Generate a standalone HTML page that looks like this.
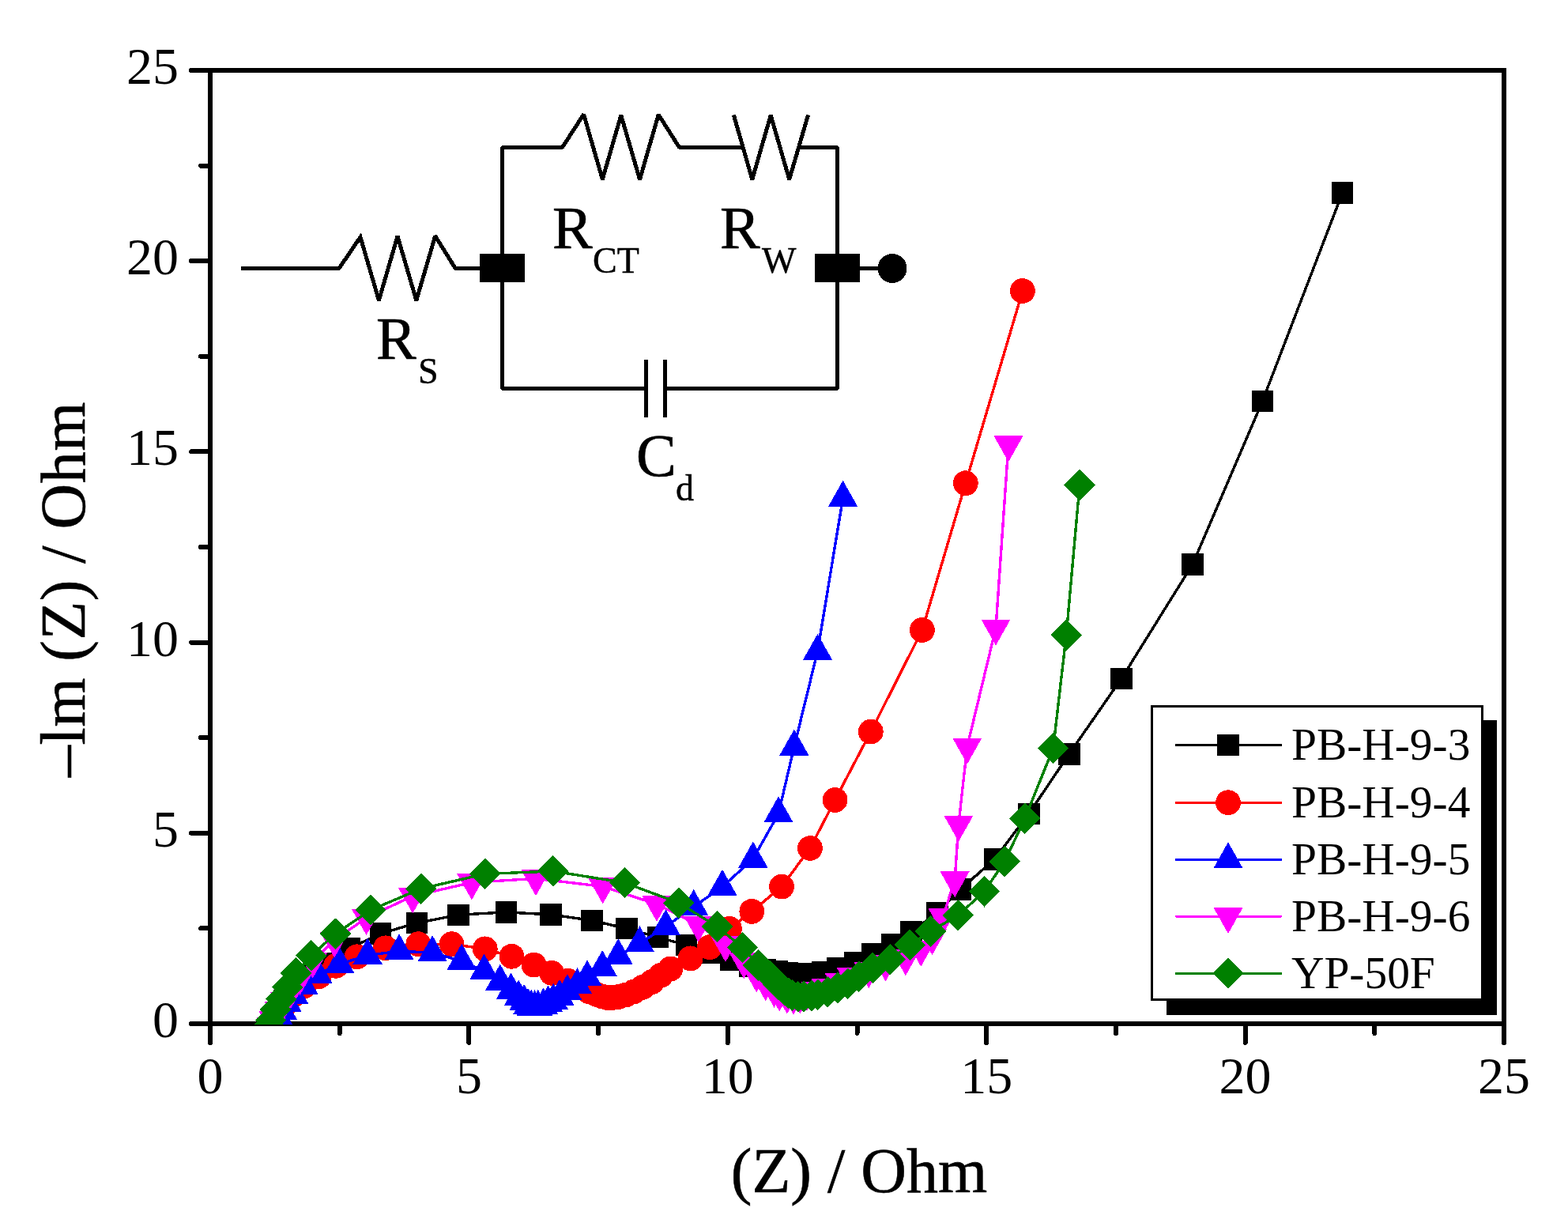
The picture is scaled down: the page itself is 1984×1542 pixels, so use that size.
<!DOCTYPE html>
<html lang="en">
<head>
<meta charset="utf-8">
<title>Nyquist plot</title>
<style>
html,body{margin:0;padding:0;background:#fff;}
body{width:1984px;height:1542px;overflow:hidden;}
svg{display:block;}
text{font-family:"Liberation Serif","Times New Roman",serif;fill:#000;}
.tk{font-size:66px;}
.ttl{font-size:80px;stroke:#000;stroke-width:0.6px;}
.lg{font-size:57.4px;}
.cl{font-size:76px;stroke:#000;stroke-width:0.7px;}
.sub{font-size:46px;stroke:#000;stroke-width:0.5px;}
</style>
</head>
<body>
<svg width="1984" height="1542" viewBox="0 0 1984 1542" shape-rendering="crispEdges">
<rect width="1984" height="1542" fill="#fff"/>
<g stroke="#000" stroke-width="6" fill="none" stroke-linecap="butt">
<path d="M266 86V1298M1903 86V1298M263 89H1906M263 1295H1906"/>
</g>
<path d="M266 1295V1319M266 1295H242M593.4 1295V1319M266 1053.8H242M920.8 1295V1319M266 812.6H242M1248.2 1295V1319M266 571.4H242M1575.6 1295V1319M266 330.2H242M1903 1295V1319M266 89H242M429.7 1295V1307M266 1174.4H254M757.1 1295V1307M266 933.2H254M1084.5 1295V1307M266 692H254M1411.9 1295V1307M266 450.8H254M1739.3 1295V1307M266 209.6H254" stroke="#000" stroke-width="6" stroke-linecap="round" fill="none"/>
<text class="tk" x="266" y="1383" text-anchor="middle">0</text>
<text class="tk" x="226" y="1312" text-anchor="end">0</text>
<text class="tk" x="593.4" y="1383" text-anchor="middle">5</text>
<text class="tk" x="226" y="1070.8" text-anchor="end">5</text>
<text class="tk" x="920.8" y="1383" text-anchor="middle">10</text>
<text class="tk" x="226" y="829.6" text-anchor="end">10</text>
<text class="tk" x="1248.2" y="1383" text-anchor="middle">15</text>
<text class="tk" x="226" y="588.4" text-anchor="end">15</text>
<text class="tk" x="1575.6" y="1383" text-anchor="middle">20</text>
<text class="tk" x="226" y="347.2" text-anchor="end">20</text>
<text class="tk" x="1903" y="1383" text-anchor="middle">25</text>
<text class="tk" x="226" y="106" text-anchor="end">25</text>
<text class="ttl" x="1087" y="1508" text-anchor="middle">(Z) / Ohm</text>
<text class="ttl" transform="translate(107 983) rotate(-90)" letter-spacing="0.47">–lm (Z) / Ohm</text>
<clipPath id="pc"><rect x="266" y="89" width="1637" height="1207"/></clipPath>
<g clip-path="url(#pc)">
<path d="M344 1297L348 1287L353 1277L360 1266L369 1254L381 1240L397 1225L422 1218.2L442.5 1199.5L481.3 1181.1L527.2 1167.6L580 1157.3L640.2 1153.9L696.7 1156.9L749 1164.4L793 1174.6L832.3 1185.5L868.6 1195.6L897 1205.5L925 1214.4L949 1222.2L968 1226.5L983 1229L996.3 1230.8L1015.6 1231.7L1040.8 1229.8L1059.8 1224.8L1081.8 1217.7L1103.9 1206.6L1128.7 1194.9L1152.9 1178.8L1185.7 1154.9L1215.3 1125L1258.5 1086.8L1301.8 1029.3L1352.8 953.8L1419 858.4L1509.1 713.7L1597.3 507.7L1698.5 244.2" fill="none" stroke="#000000" stroke-width="3.4" stroke-linejoin="round"/>
<path d="M330.2 1283.2h27.5v27.5h-27.5zM334.2 1273.2h27.5v27.5h-27.5zM339.2 1263.2h27.5v27.5h-27.5zM346.2 1252.2h27.5v27.5h-27.5zM355.2 1240.2h27.5v27.5h-27.5zM367.2 1226.2h27.5v27.5h-27.5zM383.2 1211.2h27.5v27.5h-27.5zM408.2 1204.5h27.5v27.5h-27.5zM428.8 1185.8h27.5v27.5h-27.5zM467.6 1167.3h27.5v27.5h-27.5zM513.5 1153.8h27.5v27.5h-27.5zM566.2 1143.5h27.5v27.5h-27.5zM626.5 1140.2h27.5v27.5h-27.5zM683 1143.2h27.5v27.5h-27.5zM735.2 1150.7h27.5v27.5h-27.5zM779.2 1160.8h27.5v27.5h-27.5zM818.5 1171.8h27.5v27.5h-27.5zM854.9 1181.8h27.5v27.5h-27.5zM883.2 1191.8h27.5v27.5h-27.5zM911.2 1200.7h27.5v27.5h-27.5zM935.2 1208.5h27.5v27.5h-27.5zM954.2 1212.8h27.5v27.5h-27.5zM969.2 1215.2h27.5v27.5h-27.5zM982.5 1217h27.5v27.5h-27.5zM1001.9 1218h27.5v27.5h-27.5zM1027 1216h27.5v27.5h-27.5zM1046 1211h27.5v27.5h-27.5zM1068 1204h27.5v27.5h-27.5zM1090.2 1192.8h27.5v27.5h-27.5zM1115 1181.2h27.5v27.5h-27.5zM1139.2 1165h27.5v27.5h-27.5zM1172 1141.2h27.5v27.5h-27.5zM1201.5 1111.2h27.5v27.5h-27.5zM1244.8 1073h27.5v27.5h-27.5zM1288 1015.5h27.5v27.5h-27.5zM1339 940h27.5v27.5h-27.5zM1405.2 844.6h27.5v27.5h-27.5zM1495.3 700h27.5v27.5h-27.5zM1583.5 493.9h27.5v27.5h-27.5zM1684.8 230.4h27.5v27.5h-27.5z" fill="#000000"/>
<path d="M345 1299L348 1291L353 1281L361 1270L372 1258.5L385 1247.5L403.5 1235.2L425 1221.8L451.6 1210.3L487.9 1199.3L529.3 1194.2L571.6 1194.2L613.8 1200.4L647.5 1209.8L675.5 1220.6L698.1 1230.8L718.5 1240.7L733 1248L745 1254L755 1258L762 1260.5L768 1262L775 1262L783 1261L792 1258.5L802 1254.5L813 1249L825 1242L836 1234L848.4 1225.5L873.6 1212.4L897.8 1198.2L923 1175L951.3 1152.9L989.1 1121.6L1025 1073L1056.6 1011.9L1101.8 925.6L1166.9 797L1221.8 611.2L1293.9 368" fill="none" stroke="#ff0000" stroke-width="3.4" stroke-linejoin="round"/>
<path d="M329.1 1299a15.9 15.9 0 1 0 31.8 0a15.9 15.9 0 1 0 -31.8 0zM332.1 1291a15.9 15.9 0 1 0 31.8 0a15.9 15.9 0 1 0 -31.8 0zM337.1 1281a15.9 15.9 0 1 0 31.8 0a15.9 15.9 0 1 0 -31.8 0zM345.1 1270a15.9 15.9 0 1 0 31.8 0a15.9 15.9 0 1 0 -31.8 0zM356.1 1258.5a15.9 15.9 0 1 0 31.8 0a15.9 15.9 0 1 0 -31.8 0zM369.1 1247.5a15.9 15.9 0 1 0 31.8 0a15.9 15.9 0 1 0 -31.8 0zM387.6 1235.2a15.9 15.9 0 1 0 31.8 0a15.9 15.9 0 1 0 -31.8 0zM409.1 1221.8a15.9 15.9 0 1 0 31.8 0a15.9 15.9 0 1 0 -31.8 0zM435.7 1210.3a15.9 15.9 0 1 0 31.8 0a15.9 15.9 0 1 0 -31.8 0zM472 1199.3a15.9 15.9 0 1 0 31.8 0a15.9 15.9 0 1 0 -31.8 0zM513.4 1194.2a15.9 15.9 0 1 0 31.8 0a15.9 15.9 0 1 0 -31.8 0zM555.7 1194.2a15.9 15.9 0 1 0 31.8 0a15.9 15.9 0 1 0 -31.8 0zM597.9 1200.4a15.9 15.9 0 1 0 31.8 0a15.9 15.9 0 1 0 -31.8 0zM631.6 1209.8a15.9 15.9 0 1 0 31.8 0a15.9 15.9 0 1 0 -31.8 0zM659.6 1220.6a15.9 15.9 0 1 0 31.8 0a15.9 15.9 0 1 0 -31.8 0zM682.2 1230.8a15.9 15.9 0 1 0 31.8 0a15.9 15.9 0 1 0 -31.8 0zM702.6 1240.7a15.9 15.9 0 1 0 31.8 0a15.9 15.9 0 1 0 -31.8 0zM717.1 1248a15.9 15.9 0 1 0 31.8 0a15.9 15.9 0 1 0 -31.8 0zM729.1 1254a15.9 15.9 0 1 0 31.8 0a15.9 15.9 0 1 0 -31.8 0zM739.1 1258a15.9 15.9 0 1 0 31.8 0a15.9 15.9 0 1 0 -31.8 0zM746.1 1260.5a15.9 15.9 0 1 0 31.8 0a15.9 15.9 0 1 0 -31.8 0zM752.1 1262a15.9 15.9 0 1 0 31.8 0a15.9 15.9 0 1 0 -31.8 0zM759.1 1262a15.9 15.9 0 1 0 31.8 0a15.9 15.9 0 1 0 -31.8 0zM767.1 1261a15.9 15.9 0 1 0 31.8 0a15.9 15.9 0 1 0 -31.8 0zM776.1 1258.5a15.9 15.9 0 1 0 31.8 0a15.9 15.9 0 1 0 -31.8 0zM786.1 1254.5a15.9 15.9 0 1 0 31.8 0a15.9 15.9 0 1 0 -31.8 0zM797.1 1249a15.9 15.9 0 1 0 31.8 0a15.9 15.9 0 1 0 -31.8 0zM809.1 1242a15.9 15.9 0 1 0 31.8 0a15.9 15.9 0 1 0 -31.8 0zM820.1 1234a15.9 15.9 0 1 0 31.8 0a15.9 15.9 0 1 0 -31.8 0zM832.5 1225.5a15.9 15.9 0 1 0 31.8 0a15.9 15.9 0 1 0 -31.8 0zM857.7 1212.4a15.9 15.9 0 1 0 31.8 0a15.9 15.9 0 1 0 -31.8 0zM881.9 1198.2a15.9 15.9 0 1 0 31.8 0a15.9 15.9 0 1 0 -31.8 0zM907.1 1175a15.9 15.9 0 1 0 31.8 0a15.9 15.9 0 1 0 -31.8 0zM935.4 1152.9a15.9 15.9 0 1 0 31.8 0a15.9 15.9 0 1 0 -31.8 0zM973.2 1121.6a15.9 15.9 0 1 0 31.8 0a15.9 15.9 0 1 0 -31.8 0zM1009.1 1073a15.9 15.9 0 1 0 31.8 0a15.9 15.9 0 1 0 -31.8 0zM1040.7 1011.9a15.9 15.9 0 1 0 31.8 0a15.9 15.9 0 1 0 -31.8 0zM1085.9 925.6a15.9 15.9 0 1 0 31.8 0a15.9 15.9 0 1 0 -31.8 0zM1151 797a15.9 15.9 0 1 0 31.8 0a15.9 15.9 0 1 0 -31.8 0zM1205.9 611.2a15.9 15.9 0 1 0 31.8 0a15.9 15.9 0 1 0 -31.8 0zM1278 368a15.9 15.9 0 1 0 31.8 0a15.9 15.9 0 1 0 -31.8 0z" fill="#ff0000"/>
<path d="M351 1298.5L353.5 1288.5L357.3 1278.7L363 1268.7L371.6 1258.6L383.9 1246.7L402 1233L429.5 1219.5L465.1 1208.5L505.1 1203.2L547.1 1205.2L584.2 1215.6L612.6 1228.4L632.8 1241.6L646.6 1252.5L656.2 1261.4L663.1 1266.8L668 1271.7L672.2 1273.9L676.5 1274.2L680.8 1273.9L687.5 1271.7L693.5 1268.7L700.2 1265.6L708 1260.8L717.9 1254.2L730.5 1246.3L743 1236.4L762.2 1224L782.3 1209.2L809.4 1193.3L842.4 1172.2L877.7 1147L914 1121.8L952.9 1086.5L985 1029.3L1004.9 944.6L1034.5 823.8L1066.6 629.8" fill="none" stroke="#0000ff" stroke-width="3.4" stroke-linejoin="round"/>
<path d="M351 1276.5L369.6 1309.5H332.4zM353.5 1266.5L372.1 1299.5H334.9zM357.3 1256.7L375.9 1289.7H338.7zM363 1246.7L381.6 1279.7H344.4zM371.6 1236.6L390.2 1269.6H353zM383.9 1224.7L402.5 1257.7H365.3zM402 1211L420.6 1244H383.4zM429.5 1197.5L448.1 1230.5H410.9zM465.1 1186.5L483.7 1219.5H446.5zM505.1 1181.2L523.7 1214.2H486.5zM547.1 1183.2L565.7 1216.2H528.5zM584.2 1193.6L602.8 1226.6H565.6zM612.6 1206.4L631.2 1239.4H594zM632.8 1219.6L651.4 1252.6H614.2zM646.6 1230.5L665.2 1263.5H628zM656.2 1239.4L674.8 1272.4H637.6zM663.1 1244.8L681.7 1277.8H644.5zM668 1249.7L686.6 1282.7H649.4zM672.2 1251.9L690.8 1284.9H653.6zM676.5 1252.2L695.1 1285.2H657.9zM680.8 1251.9L699.4 1284.9H662.2zM687.5 1249.7L706.1 1282.7H668.9zM693.5 1246.7L712.1 1279.7H674.9zM700.2 1243.6L718.8 1276.6H681.6zM708 1238.8L726.6 1271.8H689.4zM717.9 1232.2L736.5 1265.2H699.3zM730.5 1224.3L749.1 1257.3H711.9zM743 1214.4L761.6 1247.4H724.4zM762.2 1202L780.8 1235H743.6zM782.3 1187.2L800.9 1220.2H763.7zM809.4 1171.3L828 1204.3H790.8zM842.4 1150.2L861 1183.2H823.8zM877.7 1125L896.3 1158H859.1zM914 1099.8L932.6 1132.8H895.4zM952.9 1064.5L971.5 1097.5H934.3zM985 1007.3L1003.6 1040.3H966.4zM1004.9 922.6L1023.5 955.6H986.3zM1034.5 801.8L1053.1 834.8H1015.9zM1066.6 607.8L1085.2 640.8H1048z" fill="#0000ff"/>
<path d="M343 1298L346.2 1290.4L353.2 1277.9L360.2 1265.7L368.4 1253.1L379.5 1237L395.7 1215.7L423.2 1189.5L463.5 1161L522.2 1133.5L596.9 1116.4L678 1111.3L762.7 1121.4L831 1143.8L883.7 1169.6L918 1195L941.2 1216.2L957.2 1233.3L968.7 1244.2L979.6 1252.7L986.2 1257.5L995.9 1260.6L1004 1261.5L1012.3 1260.5L1021 1257L1032.5 1252.6L1045.2 1249L1062.1 1241.9L1077.2 1235L1099.3 1228.2L1120.5 1219.4L1145.9 1212.2L1165.3 1200.7L1179.5 1186.1L1193.1 1160.1L1208.1 1113.3L1212.9 1042.7L1223.8 944.6L1260 794.5L1276 562.3" fill="none" stroke="#ff00ff" stroke-width="3.4" stroke-linejoin="round"/>
<path d="M343 1320L361.6 1287H324.4zM346.2 1312.4L364.8 1279.4H327.6zM353.2 1299.9L371.8 1266.9H334.6zM360.2 1287.7L378.8 1254.7H341.6zM368.4 1275.1L387 1242.1H349.8zM379.5 1259L398.1 1226H360.9zM395.7 1237.7L414.3 1204.7H377.1zM423.2 1211.5L441.8 1178.5H404.6zM463.5 1183L482.1 1150H444.9zM522.2 1155.5L540.8 1122.5H503.6zM596.9 1138.4L615.5 1105.4H578.3zM678 1133.3L696.6 1100.3H659.4zM762.7 1143.4L781.3 1110.4H744.1zM831 1165.8L849.6 1132.8H812.4zM883.7 1191.6L902.3 1158.6H865.1zM918 1217L936.6 1184H899.4zM941.2 1238.2L959.8 1205.2H922.6zM957.2 1255.3L975.8 1222.3H938.6zM968.7 1266.2L987.3 1233.2H950.1zM979.6 1274.7L998.2 1241.7H961zM986.2 1279.5L1004.8 1246.5H967.6zM995.9 1282.6L1014.5 1249.6H977.3zM1004 1283.5L1022.6 1250.5H985.4zM1012.3 1282.5L1030.9 1249.5H993.7zM1021 1279L1039.6 1246H1002.4zM1032.5 1274.6L1051.1 1241.6H1013.9zM1045.2 1271L1063.8 1238H1026.6zM1062.1 1263.9L1080.7 1230.9H1043.5zM1077.2 1257L1095.8 1224H1058.6zM1099.3 1250.2L1117.9 1217.2H1080.7zM1120.5 1241.4L1139.1 1208.4H1101.9zM1145.9 1234.2L1164.5 1201.2H1127.3zM1165.3 1222.7L1183.9 1189.7H1146.7zM1179.5 1208.1L1198.1 1175.1H1160.9zM1193.1 1182.1L1211.7 1149.1H1174.5zM1208.1 1135.3L1226.7 1102.3H1189.5zM1212.9 1064.7L1231.5 1031.7H1194.3zM1223.8 966.6L1242.4 933.6H1205.2zM1260 816.5L1278.6 783.5H1241.4zM1276 584.3L1294.6 551.3H1257.4z" fill="#ff00ff"/>
<path d="M340 1297L342.5 1290.7L348.5 1277L355.7 1263.9L363.6 1248.8L374.7 1231.1L393.7 1208.8L424.5 1181.3L469.1 1151.1L532.7 1124.2L613.7 1105.5L699.8 1102L790.5 1116.6L858.9 1142.2L907.3 1172L939.4 1198.6L959.5 1220.8L974.8 1234.7L984.4 1245.6L992.9 1252.8L997.7 1256.4L1002.6 1258.9L1009.8 1260.7L1017.1 1260.7L1026.8 1259.5L1034.6 1258.3L1047.3 1254.6L1060 1249.8L1072.7 1244.4L1086.6 1235.3L1104.2 1224.4L1126.3 1213.8L1151.3 1195.3L1177.3 1178.1L1212.2 1157.9L1245.5 1127.7L1271.2 1089.7L1296.8 1035.3L1332.6 946.6L1349.2 803.2L1366.1 613.4" fill="none" stroke="#008000" stroke-width="3.4" stroke-linejoin="round"/>
<path d="M340 1277.2L359.8 1297L340 1316.8L320.2 1297zM342.5 1270.9L362.3 1290.7L342.5 1310.5L322.7 1290.7zM348.5 1257.2L368.3 1277L348.5 1296.8L328.7 1277zM355.7 1244.1L375.5 1263.9L355.7 1283.7L335.9 1263.9zM363.6 1229L383.4 1248.8L363.6 1268.6L343.8 1248.8zM374.7 1211.3L394.5 1231.1L374.7 1250.9L354.9 1231.1zM393.7 1189L413.5 1208.8L393.7 1228.6L373.9 1208.8zM424.5 1161.5L444.3 1181.3L424.5 1201.1L404.7 1181.3zM469.1 1131.3L488.9 1151.1L469.1 1170.9L449.3 1151.1zM532.7 1104.4L552.5 1124.2L532.7 1144L512.9 1124.2zM613.7 1085.7L633.5 1105.5L613.7 1125.3L593.9 1105.5zM699.8 1082.2L719.6 1102L699.8 1121.8L680 1102zM790.5 1096.8L810.3 1116.6L790.5 1136.4L770.7 1116.6zM858.9 1122.4L878.7 1142.2L858.9 1162L839.1 1142.2zM907.3 1152.2L927.1 1172L907.3 1191.8L887.5 1172zM939.4 1178.8L959.2 1198.6L939.4 1218.4L919.6 1198.6zM959.5 1201L979.3 1220.8L959.5 1240.6L939.7 1220.8zM974.8 1214.9L994.6 1234.7L974.8 1254.5L955 1234.7zM984.4 1225.8L1004.2 1245.6L984.4 1265.4L964.6 1245.6zM992.9 1233L1012.7 1252.8L992.9 1272.6L973.1 1252.8zM997.7 1236.6L1017.5 1256.4L997.7 1276.2L977.9 1256.4zM1002.6 1239.1L1022.4 1258.9L1002.6 1278.7L982.8 1258.9zM1009.8 1240.9L1029.6 1260.7L1009.8 1280.5L990 1260.7zM1017.1 1240.9L1036.9 1260.7L1017.1 1280.5L997.3 1260.7zM1026.8 1239.7L1046.6 1259.5L1026.8 1279.3L1007 1259.5zM1034.6 1238.5L1054.4 1258.3L1034.6 1278.1L1014.8 1258.3zM1047.3 1234.8L1067.1 1254.6L1047.3 1274.4L1027.5 1254.6zM1060 1230L1079.8 1249.8L1060 1269.6L1040.2 1249.8zM1072.7 1224.6L1092.5 1244.4L1072.7 1264.2L1052.9 1244.4zM1086.6 1215.5L1106.4 1235.3L1086.6 1255.1L1066.8 1235.3zM1104.2 1204.6L1124 1224.4L1104.2 1244.2L1084.4 1224.4zM1126.3 1194L1146.1 1213.8L1126.3 1233.6L1106.5 1213.8zM1151.3 1175.5L1171.1 1195.3L1151.3 1215.1L1131.5 1195.3zM1177.3 1158.3L1197.1 1178.1L1177.3 1197.9L1157.5 1178.1zM1212.2 1138.1L1232 1157.9L1212.2 1177.7L1192.4 1157.9zM1245.5 1107.9L1265.3 1127.7L1245.5 1147.5L1225.7 1127.7zM1271.2 1069.9L1291 1089.7L1271.2 1109.5L1251.4 1089.7zM1296.8 1015.5L1316.6 1035.3L1296.8 1055.1L1277 1035.3zM1332.6 926.8L1352.4 946.6L1332.6 966.4L1312.8 946.6zM1349.2 783.4L1369 803.2L1349.2 823L1329.4 803.2zM1366.1 593.6L1385.9 613.4L1366.1 633.2L1346.3 613.4z" fill="#008000"/>
</g>
<g stroke="#000" stroke-width="5" fill="none" stroke-linejoin="bevel" stroke-linecap="butt">
<path d="M305 339.4H429.1L456 299.9L479.4 380L503 298.8L526.8 380L550.7 298.5L576.1 339.4H610"/>
<path d="M442.5 319.7L456 299.9L467.7 340" stroke-linejoin="miter" stroke-miterlimit="10"/>
<path d="M635.5 322V186.4H711.5L738.6 144.6L762.3 227L785.8 145.8L809.5 227L833.2 145L859.5 186.4H938"/>
<path d="M928.3 145.3L951.8 227L975.2 145.8L998.7 227L1022.6 145.3"/>
<path d="M1011 186.4H1059.5V322"/>
<path d="M635.5 356V491.6H815M844 491.6H1059.5V356"/>
<path d="M817.5 454.7V528M841.4 454.7V528"/>
<path d="M1086 339.4H1115"/>
</g>
<rect x="607" y="321" width="57" height="36" fill="#000"/>
<rect x="1031" y="321" width="57" height="36" fill="#000"/>
<circle cx="1129" cy="339.4" r="18.5" fill="#000"/>
<text class="cl" x="476" y="454">R</text><text class="sub" x="529" y="485">S</text>
<text class="cl" x="699" y="314">R</text><text class="sub" x="750" y="345">CT</text>
<text class="cl" x="911" y="314">R</text><text class="sub" x="964" y="345">W</text>
<text class="cl" x="805" y="602">C</text><text class="sub" x="855" y="633">d</text>
<rect x="1476" y="911" width="418" height="373" fill="#000"/>
<rect x="1457.5" y="893.5" width="418" height="371" fill="#fff" stroke="#000" stroke-width="3"/>
<path d="M1488 942.6H1621" stroke="#000000" stroke-width="3" stroke-linecap="round" fill="none"/><path d="M1540.2 928.9h27.5v27.5h-27.5z" fill="#000000"/><text class="lg" x="1634" y="961">PB-H-9-3</text>
<path d="M1488 1015.2H1621" stroke="#ff0000" stroke-width="3" stroke-linecap="round" fill="none"/><path d="M1538.1 1015.2a15.9 15.9 0 1 0 31.8 0a15.9 15.9 0 1 0 -31.8 0z" fill="#ff0000"/><text class="lg" x="1634" y="1033.6">PB-H-9-4</text>
<path d="M1488 1087.3H1621" stroke="#0000ff" stroke-width="3" stroke-linecap="round" fill="none"/><path d="M1554 1065.3L1572.6 1098.3H1535.4z" fill="#0000ff"/><text class="lg" x="1634" y="1105.7">PB-H-9-5</text>
<path d="M1488 1159.1H1621" stroke="#ff00ff" stroke-width="3" stroke-linecap="round" fill="none"/><path d="M1554 1181.1L1572.6 1148.1H1535.4z" fill="#ff00ff"/><text class="lg" x="1634" y="1177.5">PB-H-9-6</text>
<path d="M1488 1231.2H1621" stroke="#008000" stroke-width="3" stroke-linecap="round" fill="none"/><path d="M1554 1211.4L1573.8 1231.2L1554 1251L1534.2 1231.2z" fill="#008000"/><text class="lg" x="1634" y="1249.6">YP-50F</text>
</svg>
</body>
</html>
